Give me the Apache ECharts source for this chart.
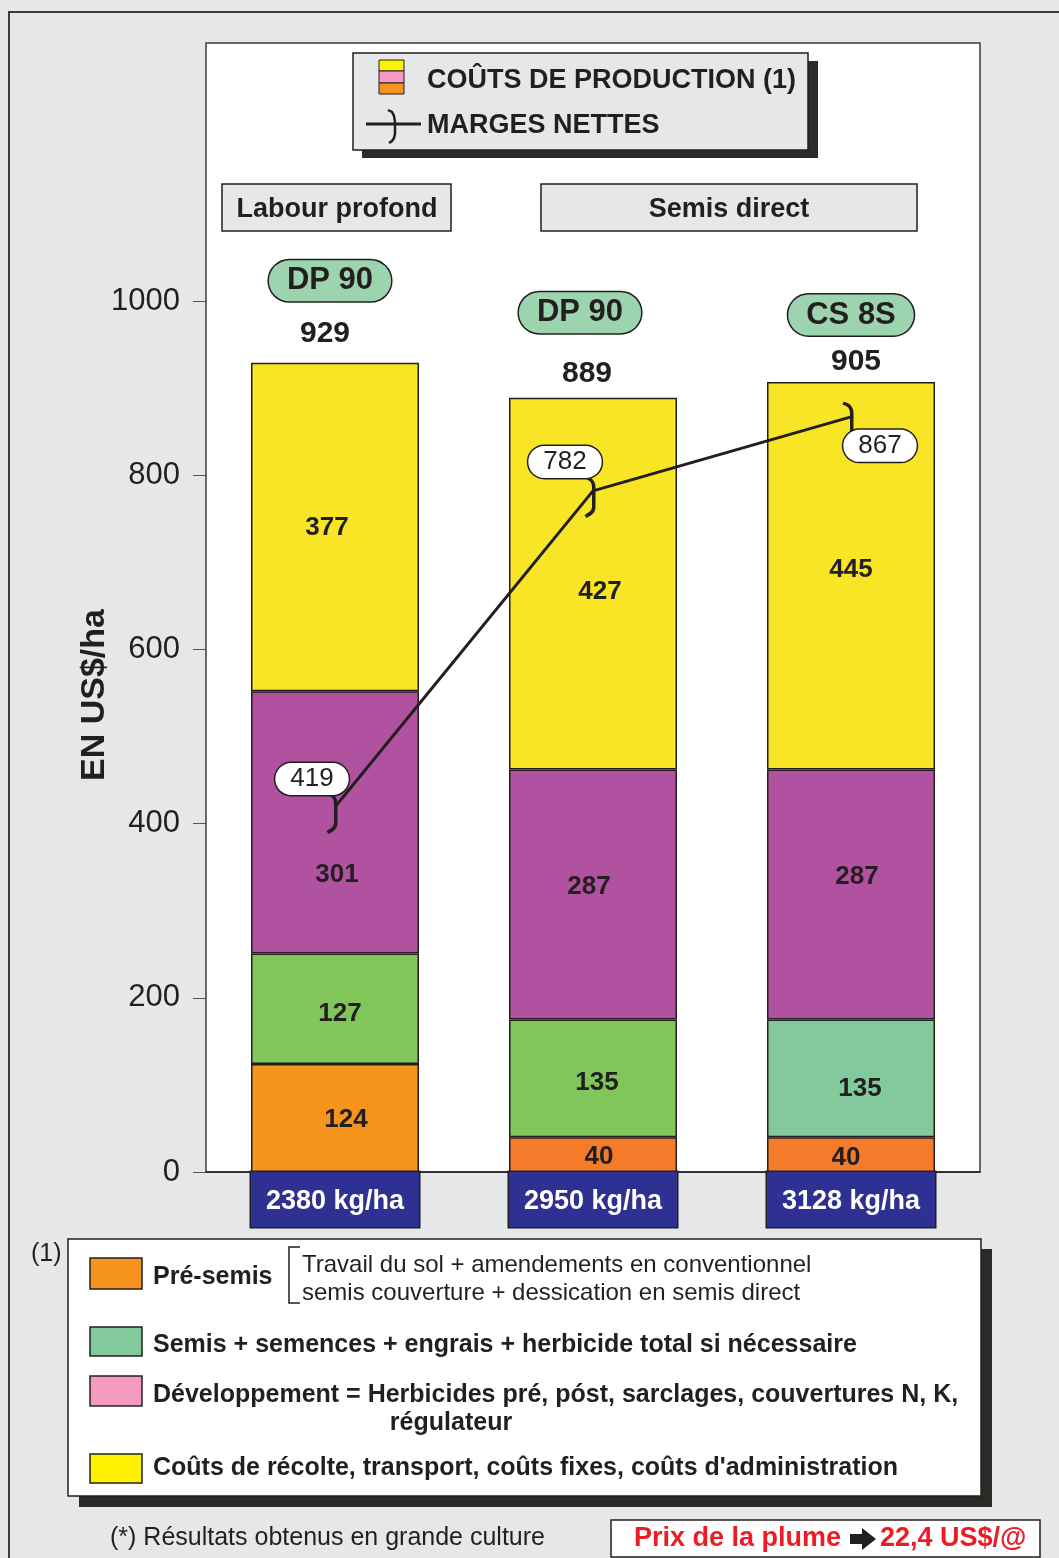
<!DOCTYPE html>
<html><head><meta charset="utf-8">
<script src="https://cdn.jsdelivr.net/npm/echarts@6/dist/echarts.min.js"></script>
<style>html,body{margin:0;padding:0;background:#E6E7E8}#c{width:1059px;height:1558px}</style>
</head><body><div id="c"></div>
<script>
// ---------- DATA ----------
const categories = ['Labour profond – DP 90', 'Semis direct – DP 90', 'Semis direct – CS 8S'];
const yieldLabels = ['2380 kg/ha', '2950 kg/ha', '3128 kg/ha'];
const varieties = ['DP 90', 'DP 90', 'CS 8S'];
const preSemis = [124, 40, 40];
const semis = [127, 135, 135];
const developpement = [301, 287, 287];
const recolte = [377, 427, 445];
const totalLabels = ['929', '889', '905'];
const margesNettes = [419, 782, 867];
const yTicks = [0, 200, 400, 600, 800, 1000];

// ---------- STYLE ----------
const FONT = '"Liberation Sans", Arial, Helvetica, sans-serif';
const DARK = '#231F20';
const preColors = ['#F7941D', '#F47B2A', '#F47B2A'];
const semisColors = ['#82C55B', '#82C55B', '#82C99C'];
const devColor = '#B0529F';
const recColor = '#F8E525';
const preOff = [[11, 2], [6, 2], [-5, 3]];
const semisOff = [[5, 5], [4, 4], [9, 10]];
const devOff = [[2, 53], [-4, -8], [6, -18]];
const recOff = [[-8, 1], [7, 8], [0, -6]];
const totalOff = [[-10, -29], [-6, -24], [5, -20]];
const pillOff = [[-5, -82], [-13, -85], [0, -67]];
const margeOff = [[-20, -34], [-25, -35], [32, 23]];

const stackTop = preSemis.map((v, i) => v + semis[i] + developpement[i] + recolte[i]);

const segLabel = { show: true, position: 'inside', color: DARK, fontSize: 26, fontWeight: 'bold', fontFamily: FONT };
function barSeries(name, vals, colors, offs) {
  return {
    name, type: 'bar', stack: 'cout', barWidth: 168, z: 3,
    itemStyle: { borderColor: DARK, borderWidth: 1.5 },
    label: segLabel,
    data: vals.map((v, i) => ({
      value: v,
      itemStyle: { color: Array.isArray(colors) ? colors[i] : colors },
      label: { offset: offs[i] }
    }))
  };
}

// thick ")" bracket drawn as a filled outline
const bracketPath = 'path://M0,0 C6,1 10,5 10,12 L10,32 C10,38 7,41 1,44 L-1,41 C4,38 6.5,36 6.5,32 L6.5,12 C6.5,7 4,4 -1,3 Z';

// ---------- GRAPHICS ----------
const G = [];
function rect(x, y, w, h, fill, stroke, lw, z) {
  G.push({ type: 'rect', z: z, shape: { x, y, width: w, height: h }, style: { fill, stroke: stroke || null, lineWidth: lw || 0 } });
}
function text(x, y, t, font, fill, align, z) {
  G.push({ type: 'text', z: z || 20, x, y: y + 2, style: { text: t, font, fill: fill || DARK, align: align || 'left', verticalAlign: 'middle', textAlign: align || 'left', textVerticalAlign: 'middle' } });
}
// outer frame and plot panel
rect(9, 12, 1100, 1600, 'none', '#3C3C3C', 2, -20);
rect(206, 43, 774, 1129, '#FFFFFF', '#3C3C3C', 1.5, -10);
// top legend
rect(362, 61, 456, 97, '#2D2C28', null, 0, 10);
rect(353, 53, 455, 97, '#E6E7E8', DARK, 1.5, 11);
rect(379, 60, 25, 11, '#FFF200', DARK, 1, 12);
rect(379, 71, 25, 12, '#F49AC1', DARK, 1, 12);
rect(379, 83, 25, 11, '#F7941D', DARK, 1, 12);
text(427, 79, 'COÛTS DE PRODUCTION (1)', 'bold 27px ' + FONT, DARK, 'left', 13);
G.push({ type: 'line', z: 12, shape: { x1: 366, y1: 124, x2: 421, y2: 124 }, style: { stroke: DARK, lineWidth: 3 } });
G.push({ type: 'polyline', z: 12, shape: { points: [[388, 110], [392, 112], [394, 116], [395, 122], [395, 134], [394, 138], [392, 141], [389, 143]] }, style: { fill: 'none', stroke: DARK, lineWidth: 2.5 } });
text(427, 124, 'MARGES NETTES', 'bold 27px ' + FONT, DARK, 'left', 13);
// group header boxes
rect(222, 184, 229, 47, '#E6E7E8', DARK, 1.5, 11);
text(337, 208, 'Labour profond', 'bold 27px ' + FONT, DARK, 'center', 13);
rect(541, 184, 376, 47, '#E6E7E8', DARK, 1.5, 11);
text(729, 208, 'Semis direct', 'bold 27px ' + FONT, DARK, 'center', 13);
// y axis title
G.push({ type: 'text', z: 20, x: 95, y: 695, rotation: Math.PI / 2, style: { text: 'EN US$/ha', font: 'bold 34px ' + FONT, fill: DARK, align: 'center', verticalAlign: 'middle', textAlign: 'center', textVerticalAlign: 'middle' } });
// bottom legend
rect(79, 1249, 913, 258, '#2B2A26', null, 0, 10);
rect(68, 1239, 913, 257, '#FFFFFF', DARK, 1.5, 11);
text(31, 1252, '(1)', '25px ' + FONT, DARK, 'left', 13);
rect(90, 1258, 52, 31, '#F7941D', DARK, 1.5, 12);
text(153, 1275, 'Pré-semis', 'bold 25px ' + FONT, DARK, 'left', 13);
G.push({ type: 'polyline', z: 12, shape: { points: [[300, 1247], [289, 1247], [289, 1303], [300, 1303]] }, style: { fill: 'none', stroke: DARK, lineWidth: 1.5 } });
text(302, 1263, 'Travail du sol + amendements en conventionnel', '24px ' + FONT, DARK, 'left', 13);
text(302, 1291, 'semis couverture + dessication en semis direct', '24px ' + FONT, DARK, 'left', 13);
rect(90, 1327, 52, 29, '#82C99C', DARK, 1.5, 12);
text(153, 1343, 'Semis + semences + engrais + herbicide total si nécessaire', 'bold 25px ' + FONT, DARK, 'left', 13);
rect(90, 1376, 52, 30, '#F49AC1', DARK, 1.5, 12);
text(153, 1393, 'Développement = Herbicides pré, póst, sarclages, couvertures N, K,', 'bold 25px ' + FONT, DARK, 'left', 13);
text(451, 1421, 'régulateur', 'bold 25px ' + FONT, DARK, 'center', 13);
rect(90, 1454, 52, 29, '#FFF200', DARK, 1.5, 12);
text(153, 1466, 'Coûts de récolte, transport, coûts fixes, coûts d\'administration', 'bold 25px ' + FONT, DARK, 'left', 13);
// footer
text(110, 1536, '(*) Résultats obtenus en grande culture', '25px ' + FONT, DARK, 'left', 13);
rect(611, 1520, 429, 37, '#FFFFFF', DARK, 1.5, 11);
text(634, 1537, 'Prix de la plume', 'bold 27px ' + FONT, '#ED1C24', 'left', 13);
G.push({ type: 'polygon', z: 13, shape: { points: [[850, 1534], [862, 1534], [862, 1528], [876, 1539], [862, 1550], [862, 1544], [850, 1544]] }, style: { fill: DARK } });
text(880, 1537, '22,4 US$/@', 'bold 27px ' + FONT, '#ED1C24', 'left', 13);

// ---------- CHART ----------
const chart = echarts.init(document.getElementById('c'), null, { renderer: 'canvas' });
chart.setOption({
  backgroundColor: '#E6E7E8',
  animation: false,
  textStyle: { fontFamily: FONT },
  grid: { left: 206, right: 79, top: 301, bottom: 386, containLabel: false },
  xAxis: {
    type: 'category', data: yieldLabels,
    axisLine: { show: true, lineStyle: { color: DARK, width: 1.5 } },
    axisTick: { show: false },
    splitLine: { show: false },
    axisLabel: {
      interval: 0, margin: 0, color: '#FFFFFF', fontSize: 27, fontWeight: 'bold', fontFamily: FONT,
      backgroundColor: '#2E3192', borderColor: DARK, borderWidth: 1.5,
      width: 168, height: 55, lineHeight: 60, align: 'center', verticalAlign: 'top'
    }
  },
  yAxis: {
    type: 'value', min: 0, max: 1000, interval: 200,
    axisLine: { show: false },
    axisTick: { show: true, length: 13, lineStyle: { color: '#555555', width: 1 } },
    splitLine: { show: false },
    axisLabel: { margin: 26, color: DARK, fontSize: 31, fontFamily: FONT,
      formatter: v => (yTicks.indexOf(v) >= 0 ? String(v) : '') }
  },
  graphic: G,
  series: [
    barSeries('Pré-semis', preSemis, preColors, preOff),
    barSeries('Semis + semences + engrais', semis, semisColors, semisOff),
    barSeries('Développement', developpement, devColor, devOff),
    barSeries('Coûts de récolte', recolte, recColor, recOff),
    {
      name: 'Total', type: 'scatter', z: 6, symbolSize: 1, itemStyle: { color: 'rgba(0,0,0,0)', opacity: 1 },
      label: { show: true, position: 'inside', color: DARK, opacity: 1, fontSize: 30, fontWeight: 'bold', fontFamily: FONT,
        formatter: p => totalLabels[p.dataIndex] },
      data: stackTop.map((v, i) => ({ value: v, label: { offset: totalOff[i] } }))
    },
    {
      name: 'Variété', type: 'scatter', z: 6, symbolSize: 1, itemStyle: { color: 'rgba(0,0,0,0)', opacity: 1 },
      label: { show: true, position: 'inside', color: DARK, opacity: 1, fontSize: 31, fontWeight: 'bold', fontFamily: FONT,
        backgroundColor: '#9BD4AE', borderColor: DARK, borderWidth: 1.5, borderRadius: 22,
        padding: [6, 18, 4, 18], formatter: p => varieties[p.dataIndex] },
      data: stackTop.map((v, i) => ({ value: v, label: { offset: pillOff[i] } }))
    },
    {
      name: 'Marges nettes', type: 'line', z: 8, data: margesNettes.map((v, i) => ({ value: v, label: { offset: margeOff[i] } })),
      lineStyle: { color: DARK, width: 3 },
      symbol: bracketPath, symbolSize: [11, 42], symbolOffset: [-3, 6],
      itemStyle: { color: DARK, borderWidth: 0, opacity: 1 },
      label: { show: true, position: 'inside', color: DARK, fontSize: 26, fontFamily: FONT,
        backgroundColor: '#FFFFFF', borderColor: DARK, borderWidth: 1.5, borderRadius: 17,
        padding: [4, 15, 2, 15], formatter: p => String(p.value) }
    }
  ]
});
</script></body></html>
